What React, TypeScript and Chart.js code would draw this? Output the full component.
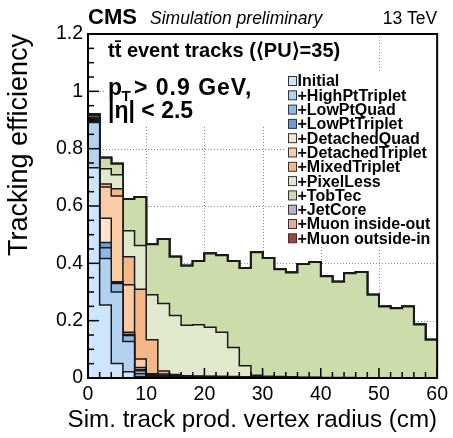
import { useEffect, useRef } from 'react';
import { Chart, registerables } from 'chart.js';

Chart.register(...registerables);

const FONT = '"Liberation Sans", Arial, Helvetica, sans-serif';

// Bin low edges (cm) plus the upper edge of the last bin
const binEdges = [0, 2, 4, 6, 8, 10, 12, 14, 16, 18, 20, 22, 24, 26, 28, 30, 32, 34, 36, 38, 40, 42, 44, 46, 48, 50, 52, 54, 56, 58, 60];

const xTicks = [0, 10, 20, 30, 40, 50, 60];
const xTickLabels = ['0', '10', '20', '30', '40', '50', '60'];
const yTicks = [0, 0.2, 0.4, 0.6, 0.8, 1.0, 1.2];
const yTickLabels = ['0', '0.2', '0.4', '0.6', '0.8', '1', '1.2'];

const seriesNames = [
  'Initial', '+HighPtTriplet', '+LowPtQuad', '+LowPtTriplet', '+DetachedQuad', '+DetachedTriplet',
  '+MixedTriplet', '+PixelLess', '+TobTec', '+JetCore', '+Muon inside-out', '+Muon outside-in',
];
const seriesColors = [
  '#cde6fc', '#b3d2f2', '#8db9e6', '#6a9bd4', '#fde2cc', '#f9cca6',
  '#f4b888', '#e0e9cc', '#ccdcaa', '#c0b0d4', '#e6a6a6', '#a8403a',
];

// Cumulative efficiency per 2 cm bin
const initial = [0.733, 0.255, 0.051, 0.022, 0.005, 0.003, 0.002, 0.001, 0.001, 0, 0, 0, 0, 0, 0, 0, 0, 0, 0, 0, 0, 0, 0, 0, 0, 0, 0, 0, 0, 0];
const highPtTriplet = [0.891, 0.417, 0.300, 0.127, 0.015, 0.006, 0.004, 0.003, 0.002, 0.001, 0.001, 0.001, 0, 0, 0, 0, 0, 0, 0, 0, 0, 0, 0, 0, 0, 0, 0, 0, 0, 0];
const lowPtQuad = [0.895, 0.454, 0.330, 0.148, 0.025, 0.008, 0.006, 0.004, 0.003, 0.002, 0.002, 0.001, 0.001, 0, 0, 0, 0, 0, 0, 0, 0, 0, 0, 0, 0, 0, 0, 0, 0, 0];
const lowPtTriplet = [0.898, 0.473, 0.333, 0.153, 0.030, 0.010, 0.008, 0.005, 0.004, 0.003, 0.003, 0.002, 0.002, 0.001, 0.001, 0, 0, 0, 0, 0, 0, 0, 0, 0, 0, 0, 0, 0, 0, 0];
const detachedQuad = [0.900, 0.557, 0.336, 0.160, 0.037, 0.012, 0.010, 0.006, 0.005, 0.004, 0.004, 0.003, 0.003, 0.002, 0.002, 0.001, 0.001, 0.001, 0, 0, 0, 0, 0, 0, 0, 0, 0, 0, 0, 0];
const detachedTriplet = [0.902, 0.666, 0.635, 0.325, 0.066, 0.015, 0.014, 0.008, 0.006, 0.005, 0.005, 0.004, 0.004, 0.003, 0.003, 0.002, 0.002, 0.002, 0.001, 0.001, 0.001, 0, 0, 0, 0, 0, 0, 0, 0, 0];
const mixedTriplet = [0.904, 0.677, 0.660, 0.423, 0.310, 0.133, 0.024, 0.012, 0.008, 0.007, 0.006, 0.006, 0.005, 0.004, 0.004, 0.003, 0.003, 0.002, 0.002, 0.002, 0.001, 0.001, 0.001, 0.001, 0.001, 0, 0, 0, 0, 0];
const pixelLess = [0.910, 0.730, 0.709, 0.514, 0.462, 0.290, 0.260, 0.218, 0.184, 0.186, 0.177, 0.160, 0.106, 0.043, 0.010, 0.006, 0.005, 0.004, 0.003, 0.003, 0.002, 0.002, 0.002, 0.001, 0.001, 0.001, 0.001, 0.001, 0.001, 0.001];
const tobTec = [0.917, 0.768, 0.747, 0.624, 0.631, 0.467, 0.485, 0.423, 0.392, 0.408, 0.434, 0.428, 0.408, 0.384, 0.439, 0.419, 0.379, 0.368, 0.398, 0.405, 0.355, 0.336, 0.365, 0.370, 0.290, 0.249, 0.243, 0.249, 0.187, 0.133];
const jetCore = [0.919, 0.768, 0.747, 0.624, 0.631, 0.467, 0.485, 0.423, 0.392, 0.408, 0.434, 0.428, 0.408, 0.384, 0.439, 0.419, 0.379, 0.368, 0.398, 0.405, 0.355, 0.336, 0.365, 0.370, 0.290, 0.249, 0.243, 0.249, 0.187, 0.133];
const muonInsideOut = [0.920, 0.768, 0.747, 0.624, 0.631, 0.467, 0.485, 0.423, 0.392, 0.408, 0.434, 0.428, 0.408, 0.384, 0.439, 0.419, 0.379, 0.368, 0.398, 0.405, 0.355, 0.336, 0.365, 0.370, 0.290, 0.249, 0.243, 0.249, 0.187, 0.133];
const muonOutsideIn = [0.921, 0.768, 0.747, 0.624, 0.631, 0.467, 0.485, 0.423, 0.392, 0.408, 0.434, 0.428, 0.408, 0.384, 0.439, 0.419, 0.379, 0.368, 0.398, 0.405, 0.355, 0.336, 0.365, 0.370, 0.290, 0.249, 0.243, 0.249, 0.187, 0.133];

const seriesValues = [
  initial, highPtTriplet, lowPtQuad, lowPtTriplet, detachedQuad, detachedTriplet,
  mixedTriplet, pixelLess, tobTec, jetCore, muonInsideOut, muonOutsideIn,
];

const xTitle = 'Sim. track prod. vertex radius (cm)';
const yTitle = 'Tracking efficiency';

const overlayPlugin = {
  id: 'cmsOverlay',
  beforeDatasetsDraw(chart: any) {
    const { ctx, chartArea: a, scales } = chart;
    const x = scales.x;
    const y = scales.y;
    ctx.save();
    ctx.strokeStyle = '#8a8a8a';
    ctx.lineWidth = 1;
    ctx.setLineDash([1, 2]);
    x.ticks.forEach((t: any) => {
      if (t.value <= x.min || t.value >= x.max) return;
      const px = Math.round(x.getPixelForValue(t.value)) + 0.5;
      ctx.beginPath();
      ctx.moveTo(px, a.top);
      ctx.lineTo(px, a.bottom);
      ctx.stroke();
    });
    y.ticks.forEach((t: any) => {
      if (t.value <= y.min || t.value >= y.max) return;
      const py = Math.round(y.getPixelForValue(t.value)) + 0.5;
      ctx.beginPath();
      ctx.moveTo(a.left, py);
      ctx.lineTo(a.right, py);
      ctx.stroke();
    });
    ctx.setLineDash([]);
    // white backgrounds of the text pave and the legend
    ctx.fillStyle = '#ffffff';
    ctx.fillRect(104, 36, 258, 89);
    ctx.fillRect(284, 73, 155, 174);
    ctx.restore();
  },
  afterDatasetsDraw(chart: any) {
    const { ctx, chartArea: a, scales } = chart;
    const x = scales.x;
    const y = scales.y;
    ctx.save();
    ctx.strokeStyle = '#000';
    ctx.lineWidth = 1.5;
    for (let k = 0; k <= 30; k++) {
      const v = x.min + (k * (x.max - x.min)) / 30;
      const px = x.getPixelForValue(v);
      const len = k % 5 === 0 ? 10 : 6;
      ctx.beginPath();
      ctx.moveTo(px, a.bottom);
      ctx.lineTo(px, a.bottom - len);
      ctx.stroke();
    }
    for (let k = 0; k <= 24; k++) {
      const v = y.min + (k * (y.max - y.min)) / 24;
      const py = y.getPixelForValue(v);
      const len = k % 4 === 0 ? 11 : 6;
      ctx.beginPath();
      ctx.moveTo(a.left, py);
      ctx.lineTo(a.left + len, py);
      ctx.stroke();
    }
    ctx.lineWidth = 2;
    ctx.strokeRect(a.left, a.top, a.right - a.left, a.bottom - a.top);
    ctx.restore();
  },
  afterDraw(chart: any) {
    const { ctx, chartArea: a } = chart;
    ctx.save();
    ctx.fillStyle = '#000';
    ctx.textBaseline = 'alphabetic';
    ctx.textAlign = 'left';
    ctx.font = `bold 22px ${FONT}`;
    ctx.fillText('CMS', a.left, 24);
    ctx.font = `italic 17.5px ${FONT}`;
    ctx.fillText('Simulation preliminary', 150, 24);
    ctx.textAlign = 'right';
    ctx.font = `17.5px ${FONT}`;
    ctx.fillText('13 TeV', a.right, 24);

    // x-axis title (drawn here so it is not squeezed to the axis width)
    ctx.font = `24.2px ${FONT}`;
    ctx.fillText(xTitle, a.right, 427);

    ctx.textAlign = 'left';
    ctx.font = `bold 20px ${FONT}`;
    ctx.fillText('tt\u0304 event tracks (\u27E8PU\u27E9=35)', 108, 57);

    ctx.font = `bold 23px ${FONT}`;
    ctx.fillText('p', 108, 95);
    const pw = ctx.measureText('p').width;
    ctx.font = `bold 15px ${FONT}`;
    ctx.fillText('T', 108 + pw - 0.5, 101);
    ctx.font = `bold 23px ${FONT}`;
    (ctx as any).letterSpacing = '1px';
    ctx.fillText('> 0.9 GeV,', 134, 95);
    (ctx as any).letterSpacing = '0px';
    ctx.fillText('|\u03B7| < 2.5', 108, 118);

    // legend
    ctx.font = `bold 16px ${FONT}`;
    ctx.textBaseline = 'middle';
    seriesNames.forEach((name, i) => {
      const cy = 81 + i * 14.3;
      ctx.fillStyle = seriesColors[i];
      ctx.fillRect(288.5, cy - 4.5, 8, 9);
      ctx.strokeStyle = '#333';
      ctx.lineWidth = 1;
      ctx.strokeRect(288.5, cy - 4.5, 8, 9);
      ctx.fillStyle = '#000';
      ctx.fillText(name, 297.5, cy + 1);
    });
    ctx.restore();
  },
};

export default function App() {
  const canvasRef = useRef<HTMLCanvasElement | null>(null);

  useEffect(() => {
    const canvas = canvasRef.current;
    if (!canvas) return;
    const datasets = seriesValues.map((vals, i) => ({
      label: seriesNames[i],
      data: binEdges.map((e, k) => ({ x: e, y: vals[Math.min(k, vals.length - 1)] })),
      stepped: true as const,
      fill: 'origin' as const,
      backgroundColor: seriesColors[i],
      borderColor: '#1a1a1a',
      borderWidth: i >= 8 ? 2 : 1.5,
      pointRadius: 0,
      pointHoverRadius: 0,
      order: i,
    }));

    const chart = new Chart(canvas, {
      type: 'line',
      data: { datasets },
      options: {
        animation: false,
        responsive: false,
        devicePixelRatio: 1,
        events: [],
        layout: { padding: { top: 34, right: 12, left: 0, bottom: 0 } },
        plugins: {
          legend: { display: false },
          tooltip: { enabled: false },
          title: { display: false },
        },
        scales: {
          x: {
            type: 'linear',
            min: 0,
            max: 60,
            afterBuildTicks: (s: any) => {
              s.ticks = xTicks.map((v) => ({ value: v }));
            },
            afterFit: (s: any) => {
              s.height = 60;
            },
            grid: { display: false, drawTicks: false },
            border: { display: false },
            ticks: {
              autoSkip: false,
              maxRotation: 0,
              padding: 5,
              color: '#000',
              font: { size: 19.5, family: FONT },
              callback: (_v: any, idx: number) => xTickLabels[idx],
            },
            title: { display: false },
          },
          y: {
            type: 'linear',
            min: 0,
            max: 1.2,
            afterBuildTicks: (s: any) => {
              s.ticks = yTicks.map((v) => ({ value: v }));
            },
            afterFit: (s: any) => {
              s.width = 88;
            },
            grid: { display: false, drawTicks: false },
            border: { display: false },
            ticks: {
              autoSkip: false,
              padding: 5,
              color: '#000',
              font: { size: 19.5, family: FONT },
              callback: (_v: any, idx: number) => yTickLabels[idx],
            },
            title: {
              display: true,
              text: yTitle,
              align: 'end',
              color: '#000',
              font: { size: 27, family: FONT },
              padding: { top: 3, bottom: 0 },
            },
          },
        },
      },
      plugins: [overlayPlugin],
    } as any);

    return () => {
      chart.destroy();
    };
  }, []);

  return (
    <div style={{ position: 'absolute', left: 0, top: 0, width: 453, height: 438, background: '#fff' }}>
      <canvas ref={canvasRef} width={453} height={438} style={{ display: 'block', width: 453, height: 438 }} />
    </div>
  );
}
